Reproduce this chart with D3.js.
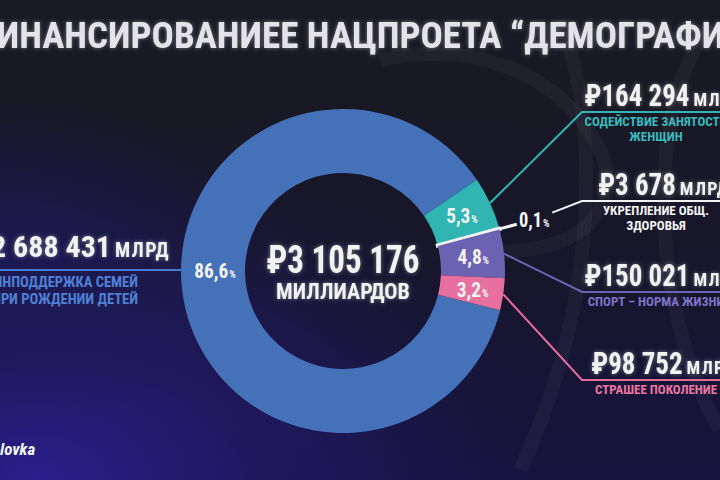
<!DOCTYPE html>
<html>
<head>
<meta charset="utf-8">
<script src="https://cdn.jsdelivr.net/npm/d3@7"></script>
<style>
  html, body { margin: 0; padding: 0; background: #17161f; }
  svg { display: block; }
</style>
</head>
<body>
<svg id="chart" width="720" height="480"></svg>
<script>
// ---------- data ----------
const title = "ФИНАНСИРОВАНИЕЕ НАЦПРОЕТА “ДЕМОГРАФИЯ”";
const categories = [
  "ФИНПОДДЕРЖКА СЕМЕЙ ПРИ РОЖДЕНИИ ДЕТЕЙ",
  "СОДЕЙСТВИЕ ЗАНЯТОСТИ ЖЕНЩИН",
  "УКРЕПЛЕНИЕ ОБЩ. ЗДОРОВЬЯ",
  "СПОРТ – НОРМА ЖИЗНИ",
  "СТРАШЕЕ ПОКОЛЕНИЕ"
];
const categoryLines = [
  ["ФИНПОДДЕРЖКА СЕМЕЙ", "ПРИ РОЖДЕНИИ ДЕТЕЙ"],
  ["СОДЕЙСТВИЕ ЗАНЯТОСТИ", "ЖЕНЩИН"],
  ["УКРЕПЛЕНИЕ ОБЩ.", "ЗДОРОВЬЯ"],
  ["СПОРТ – НОРМА ЖИЗНИ"],
  ["СТРАШЕЕ ПОКОЛЕНИЕ"]
];
const values = [2688431, 164294, 3678, 150021, 98752];          // млрд ₽
const amountLabels = ["2 688 431", "164 294", "3 678", "150 021", "98 752"];
const percentLabels = ["86,6", "5,3", "0,1", "4,8", "3,2"];
const totalLabel = "3 105 176";
const unitShort = "МЛРД";
const unitLong = "МИЛЛИАРДОВ";
const colors = ["#4571b8", "#30b5b3", "#f2f2f2", "#6b63b1", "#e8709f"];
const lineColors = ["#4a7bd0", "#2fb6b6", "#f2f2f2", "#6b63b1", "#e36c9d"];
const textColors = ["#4f80d4", "#38bcbc", "#f2f2f2", "#7d74c6", "#ec74a3"];

// ---------- layout ----------
const W = 720, H = 480;
const cx = 343, cy = 271, R = 162, r0 = 98;
const FONT = "'Liberation Sans Narrow','Roboto Condensed','DejaVu Sans Condensed','Arial Narrow',sans-serif";
const NARROW = 0.87;

const svg = d3.select("#chart");
const defs = svg.append("defs");

// background gradients
const bg = defs.append("linearGradient").attr("id", "bg").attr("x1", 0).attr("y1", 0).attr("x2", 0).attr("y2", 1);
bg.append("stop").attr("offset", "0%").attr("stop-color", "#1a1a22");
bg.append("stop").attr("offset", "55%").attr("stop-color", "#17162a");
bg.append("stop").attr("offset", "100%").attr("stop-color", "#16133f");
const glowBg = defs.append("radialGradient").attr("id", "bgGlow").attr("cx", 0.05).attr("cy", 1).attr("r", 0.75);
glowBg.append("stop").attr("offset", "0%").attr("stop-color", "#2a1f8e").attr("stop-opacity", 0.95);
glowBg.append("stop").attr("offset", "60%").attr("stop-color", "#221a6a").attr("stop-opacity", 0.45);
glowBg.append("stop").attr("offset", "100%").attr("stop-color", "#1a1640").attr("stop-opacity", 0);
const glowL = defs.append("radialGradient").attr("id", "bgLeft").attr("cx", 0).attr("cy", 0.55).attr("r", 0.35);
glowL.append("stop").attr("offset", "0%").attr("stop-color", "#1b1a55").attr("stop-opacity", 0.8);
glowL.append("stop").attr("offset", "100%").attr("stop-color", "#1b1a55").attr("stop-opacity", 0);

// text glow
const f = defs.append("filter").attr("id", "glow")
  .attr("x", "-20%").attr("y", "-60%").attr("width", "140%").attr("height", "220%");
f.append("feGaussianBlur").attr("in", "SourceAlpha").attr("stdDeviation", 2.2).attr("result", "b");
f.append("feFlood").attr("flood-color", "#ffffff").attr("flood-opacity", 0.4);
f.append("feComposite").attr("in2", "b").attr("operator", "in");
const fm = f.append("feMerge");
fm.append("feMergeNode");
fm.append("feMergeNode").attr("in", "SourceGraphic");

svg.append("rect").attr("width", W).attr("height", H).attr("fill", "url(#bg)");
svg.append("rect").attr("width", W).attr("height", H).attr("fill", "url(#bgGlow)");
svg.append("rect").attr("width", W).attr("height", H).attr("fill", "url(#bgLeft)");

// faint decorative background strokes (logo-like)
const deco = svg.append("g").attr("fill", "none").attr("stroke", "#ffffff").attr("stroke-opacity", 0.035).attr("stroke-width", 14);
deco.append("path").attr("d", "M 560 20 C 600 120, 600 300, 520 470");
deco.append("path").attr("d", "M 380 60 C 470 40, 560 70, 600 150 C 630 220, 560 260, 480 250");
deco.append("path").attr("d", "M 700 40 C 640 140, 660 330, 720 430");

// ---------- title ----------
svg.append("text")
  .attr("x", -30).attr("y", 48)
  .attr("textLength", 788).attr("lengthAdjust", "spacingAndGlyphs")
  .attr("font-family", FONT).attr("font-weight", 700).attr("font-size", 37)
  .attr("fill", "#e4e4e8").attr("filter", "url(#glow)")
  .text(title);

// helper: condensed amount + unit, positioned by anchor
function drawAmount(parent, x, y, numStr, numSize, unitSize, anchor, sx) {
  const grp = parent.append("g").attr("filter", "url(#glow)");
  const tn = grp.append("text")
    .attr("transform", `scale(${sx},1)`)
    .attr("font-family", FONT).attr("font-weight", 700).attr("font-size", numSize)
    .attr("fill", "#f2f2f2").text(numStr);
  const w1 = tn.node().getComputedTextLength() * sx;
  const tu = grp.append("text")
    .attr("x", w1 + 4)
    .attr("font-family", FONT).attr("font-weight", 700).attr("font-size", unitSize)
    .attr("letter-spacing", 1.3)
    .attr("fill", "#f2f2f2").text(unitShort);
  const w2 = tu.node().getComputedTextLength();
  const total = w1 + 4 + w2;
  const x0 = anchor === "middle" ? x - total / 2 : (anchor === "end" ? x - total : x);
  grp.attr("transform", `translate(${x0},${y})`);
}

// ---------- donut ----------
const data = values.map((v, i) => ({ i, value: v, cat: categories[i] }));
const startDeg = 104;
const pie = d3.pie().sort(null).value(d => d.value)
  .startAngle(startDeg * Math.PI / 180)
  .endAngle(startDeg * Math.PI / 180 + 2 * Math.PI);
const arcs = pie(data);
const arc = d3.arc().innerRadius(r0).outerRadius(R);

const g = svg.append("g").attr("transform", `translate(${cx},${cy})`);
g.selectAll("path.slice").data(arcs).enter().append("path")
  .attr("class", "slice")
  .attr("d", arc)
  .attr("fill", d => colors[d.data.i])
  .attr("stroke", d => d.data.i === 2 ? colors[2] : "none")
  .attr("stroke-width", d => d.data.i === 2 ? 3.5 : 0);

const mid = d => (d.startAngle + d.endAngle) / 2;
const polar = (a, rr) => [Math.sin(a) * rr, -Math.cos(a) * rr];

// percentage labels inside ring
function pctText(sel, str, big, small) {
  sel.append("tspan").attr("font-size", big).text(str);
  sel.append("tspan").attr("font-size", small).attr("dx", 1).text("%");
}
arcs.forEach(d => {
  const i = d.data.i;
  if (i === 2) return;
  const p = i === 0 ? polar(-Math.PI / 2, 128) : polar(mid(d), 131);
  const t = g.append("text")
    .attr("transform", `translate(${p[0]},${p[1] + 7}) scale(0.92,1)`)
    .attr("text-anchor", "middle")
    .attr("font-family", FONT).attr("font-weight", 700)
    .attr("fill", "#f4f4f6");
  pctText(t, percentLabels[i], 21, 11);
});

// center total
g.append("text")
  .attr("transform", `translate(0,2) scale(${NARROW},1)`)
  .attr("text-anchor", "middle")
  .attr("font-family", FONT).attr("font-weight", 700).attr("font-size", 38)
  .attr("fill", "#f2f2f2").attr("filter", "url(#glow)")
  .text("₽" + totalLabel);
g.append("text")
  .attr("x", 0).attr("y", 28).attr("text-anchor", "middle")
  .attr("font-family", FONT).attr("font-weight", 700).attr("font-size", 22)
  .attr("fill", "#f2f2f2").attr("filter", "url(#glow)")
  .text(unitLong);

// ---------- right-hand callouts ----------
const elbowX = 582;
const rowY = [112, 201, 292, 380];   // horizontal leader levels for callouts 1..4
const labelCX = 664, subCX = 656;

arcs.forEach(d => {
  const i = d.data.i;
  if (i === 0) return;
  const y = rowY[i - 1];
  const a = mid(d);
  const start = polar(a, R);
  const lg = svg.append("g");
  const lineCol = lineColors[i];
  if (i === 2) {
    const p1 = polar(a, R + 18);
    const lab = polar(a, R + 36);
    lg.append("line")
      .attr("x1", cx + start[0]).attr("y1", cy + start[1])
      .attr("x2", cx + p1[0]).attr("y2", cy + p1[1])
      .attr("stroke", lineCol).attr("stroke-width", 3);
    const t = lg.append("text")
      .attr("transform", `translate(${cx + lab[0]},${cy + lab[1] + 7}) scale(0.92,1)`)
      .attr("text-anchor", "middle")
      .attr("font-family", FONT).attr("font-weight", 700).attr("fill", "#f4f4f6");
    pctText(t, percentLabels[i], 20, 11);
    lg.append("polyline")
      .attr("points", [[cx + lab[0] + 18, cy + lab[1] - 7], [elbowX, y], [W, y]].map(p => p.join(",")).join(" "))
      .attr("fill", "none").attr("stroke", lineCol).attr("stroke-width", 2);
  } else {
    lg.append("polyline")
      .attr("points", [[cx + start[0], cy + start[1]], [elbowX, y], [W, y]].map(p => p.join(",")).join(" "))
      .attr("fill", "none").attr("stroke", lineCol).attr("stroke-width", 2);
  }
  drawAmount(lg, labelCX, y - 6, "₽" + amountLabels[i], 31, 18, "middle", NARROW);
  categoryLines[i].forEach((ln, k) => {
    lg.append("text")
      .attr("x", subCX).attr("y", y + 14 + k * 15)
      .attr("text-anchor", "middle")
      .attr("font-family", FONT).attr("font-weight", 700).attr("font-size", 13)
      .attr("fill", textColors[i])
      .text(ln);
  });
});

// ---------- left callout (largest slice) ----------
const leftPt = polar(-Math.PI / 2, R);
svg.append("line")
  .attr("x1", 0).attr("y1", cy - 1)
  .attr("x2", cx + leftPt[0]).attr("y2", cy - 1)
  .attr("stroke", lineColors[0]).attr("stroke-width", 2);
drawAmount(svg, 170, 257, "₽" + amountLabels[0], 30, 20, "end", 1.0);
categoryLines[0].forEach((ln, k) => {
  svg.append("text")
    .attr("x", 138).attr("y", 287 + k * 17)
    .attr("text-anchor", "end")
    .attr("font-family", FONT).attr("font-weight", 700).attr("font-size", 14.5)
    .attr("fill", textColors[0])
    .text(ln);
});

// ---------- watermark ----------
svg.append("text")
  .attr("x", 0).attr("y", 455)
  .attr("font-family", FONT).attr("font-weight", 700).attr("font-style", "italic").attr("font-size", 17)
  .attr("fill", "#f2f2f2")
  .text("lovka");
</script>
</body>
</html>
